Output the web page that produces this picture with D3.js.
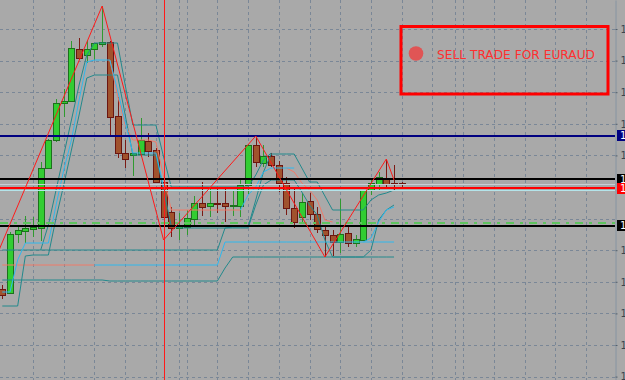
<!DOCTYPE html>
<html>
<head>
<meta charset="utf-8">
<script src="https://cdn.jsdelivr.net/npm/d3@7"></script>
<style>
  html, body { margin: 0; padding: 0; background: #a9a9a9; overflow: hidden; }
  svg { display: block; }
</style>
</head>
<body>
<div id="chart"></div>
<script>
// EURAUD candles, one entry per bar (prices)
var opens  = [1.4311,1.4307,1.4366,1.4369,1.4371,1.4372,1.4432,1.4460,1.4497,1.4499,
              1.4551,1.4545,1.4551,1.4556,1.4558,1.4484,1.4447,1.4445,1.4446,1.4459,
              1.4450,1.4418,1.4388,1.4372,1.4373,1.4381,1.4397,1.4394,1.4397,1.4397,
              1.4394,1.4394,1.4415,1.4455,1.4437,1.4444,1.4435,1.4417,1.4392,1.4383,
              1.4399,1.4386,1.4370,1.4365,1.4358,1.4367,1.4357,1.4360,1.4410,1.4416,
              1.4422,1.4417,1.4417];
var highs  = [1.4315,1.4368,1.4375,1.4384,1.4383,1.4438,1.4461,1.4501,1.4511,1.4559,
              1.4562,1.4560,1.4557,1.4594,1.4559,1.4503,1.4460,1.4447,1.4482,1.4467,
              1.4452,1.4420,1.4393,1.4387,1.4390,1.4404,1.4418,1.4412,1.4413,1.4413,
              1.4409,1.4420,1.4456,1.4464,1.4455,1.4447,1.4439,1.4423,1.4413,1.4407,
              1.4407,1.4393,1.4375,1.4370,1.4401,1.4373,1.4365,1.4410,1.4420,1.4428,
              1.4441,1.4435,1.4418];
var lows   = [1.4301,1.4306,1.4357,1.4357,1.4363,1.4359,1.4431,1.4458,1.4483,1.4498,
              1.4540,1.4537,1.4540,1.4553,1.4463,1.4442,1.4432,1.4424,1.4443,1.4443,
              1.4417,1.4360,1.4363,1.4360,1.4365,1.4374,1.4384,1.4383,1.4387,1.4378,
              1.4384,1.4383,1.4405,1.4433,1.4433,1.4433,1.4408,1.4385,1.4372,1.4378,
              1.4380,1.4367,1.4343,1.4344,1.4347,1.4353,1.4353,1.4360,1.4405,1.4410,
              1.4413,1.4410,1.4413];
var closes = [1.4305,1.4366,1.4370,1.4372,1.4373,1.4432,1.4460,1.4497,1.4499,1.4552,
              1.4542,1.4551,1.4557,1.4558,1.4483,1.4447,1.4441,1.4447,1.4460,1.4449,
              1.4418,1.4383,1.4372,1.4374,1.4382,1.4397,1.4393,1.4397,1.4396,1.4394,
              1.4395,1.4415,1.4455,1.4438,1.4444,1.4435,1.4417,1.4392,1.4378,1.4398,
              1.4386,1.4371,1.4365,1.4358,1.4366,1.4357,1.4361,1.4410,1.4417,1.4423,
              1.4416,1.4416,1.4416];

// channel indicator buffers (null = not drawn on that bar)
var slowUpper = [1.4350,1.4350,1.4350,1.4350,1.4350,1.4350,1.4350,1.4350,1.4350,1.4350,
                 1.4350,1.4350,1.4350,1.4350,1.4350,1.4350,1.4350,1.4350,1.4350,1.4350,
                 1.4350,1.4350,1.4350,1.4350,1.4350,1.4350,1.4350,1.4350,1.4350,1.4372,
                 1.4373,1.4373,1.4373,1.4400,1.4428,1.4446,1.4446,1.4446,1.4446,1.4432,
                 1.4418,1.4418,1.4404,1.4390,1.4390,1.4390,1.4390,1.4390,1.4400,1.4405,
                 1.4407,1.4410];
var slowMidDown = [1.4335,1.4335,1.4335,1.4335,1.4335,1.4335,1.4335,1.4335,1.4335,1.4335,
                   1.4335,1.4335,1.4335];
var slowMidUp = [null,null,null,null,null,null,null,null,null,null,
                 null,null,1.4335,1.4335,1.4335,1.4335,1.4335,1.4335,1.4335,1.4335,
                 1.4335,1.4335,1.4335,1.4335,1.4335,1.4335,1.4335,1.4335,1.4335,1.4358,
                 1.4358,1.4358,1.4358,1.4358,1.4358,1.4358,1.4358,1.4358,1.4358,1.4358,
                 1.4358,1.4358,1.4358,1.4358,1.4358,1.4358,1.4358,1.4358,1.4358,1.4358,
                 1.4358,1.4358];
var slowLower = [1.4320,1.4320,1.4320,1.4320,1.4320,1.4320,1.4320,1.4320,1.4320,1.4320,
                 1.4320,1.4320,1.4320,1.4320,1.4319,1.4319,1.4319,1.4319,1.4319,1.4319,
                 1.4319,1.4319,1.4319,1.4319,1.4319,1.4319,1.4319,1.4319,1.4319,1.4332,
                 1.4343,1.4343,1.4343,1.4343,1.4343,1.4343,1.4343,1.4343,1.4343,1.4343,
                 1.4343,1.4343,1.4343,1.4343,1.4343,1.4343,1.4343,1.4343,1.4343,1.4343,
                 1.4343,1.4343];
var fastUpper = [null,null,null,null,null,1.4350,1.4375,1.4410,1.4445,1.4480,
                 1.4515,1.4545,1.4557,1.4557,1.4557,1.4557,1.4515,1.4475,1.4475,1.4475,
                 1.4475,1.4443,1.4413,1.4413,1.4413,1.4413,1.4413,1.4413,1.4413,1.4413,
                 1.4413,1.4413,1.4413,1.4425,1.4440,1.4447];
var fastMidUp = [1.4308,1.4308,1.4340,1.4357,1.4357,1.4357,1.4357,1.4395,1.4430,1.4460,
                 1.4500,1.4538,1.4540,1.4540,1.4540,1.4510,1.4478,1.4447,1.4447,1.4447,
                 1.4447,1.4413,null,null,null,null,null,null,null,null,
                 null,1.4390,1.4405,1.4413,1.4428,1.4432,1.4432,1.4432,1.4432,null,
                 null,null,null,null,null,null,null,1.4358,1.4362,1.4378,
                 1.4390,1.4393];
var fastMidDown = [null,null,null,null,null,null,null,null,null,null,
                   null,null,null,null,1.4540,1.4505,1.4475,1.4460,1.4460,1.4460,
                   1.4458,1.4424,1.4390,1.4390,1.4390,1.4390,1.4390,1.4390,1.4390,1.4390,
                   1.4390,1.4390,null,null,null,null,null,1.4432,1.4428,1.4417,
                   1.4410,1.4400,1.4380,1.4378];
var fastLower = [1.4294,1.4294,1.4294,1.4344,1.4345,1.4345,1.4345,1.4382,1.4415,1.4450,
                 1.4485,1.4522,1.4525,1.4525,1.4525,1.4525,1.4485,1.4445,1.4445,1.4445,
                 1.4445,1.4410,1.4374,1.4372,1.4372,1.4372,1.4372,1.4372,1.4372,1.4372,
                 1.4372,1.4372,1.4372,1.4395,1.4415,1.4420,1.4420,1.4420,1.4420,1.4408,
                 1.4395,1.4385,1.4360,1.4343,1.4343,1.4343,1.4343,1.4343,1.4350,1.4380,
                 1.4390,1.4395];

// zigzag pivots: [bar, price]
var zigzag = [[-4, 1.4285], [13, 1.4594], [21, 1.4360], [33, 1.4464], [42, 1.4343], [50, 1.4441], [51, 1.4420]];

// price axis / grid
var priceTicks = [1.45710, 1.45394, 1.45078, 1.44762, 1.44446, 1.44130,
                  1.43814, 1.43498, 1.43182, 1.42866, 1.42550, 1.42234];
var gridBars = [4, 8, 12, 16, 20, 23, 24, 28, 32, 36, 40, 44, 48, 52, 56, 59, 60, 64, 68, 72, 76];

// horizontal objects
var levelPrices = [1.44643, 1.44207, 1.44117, 1.43740];
var levelColors = ["#000080", "#000000", "#ff0000", "#000000"];
var bidPrice = 1.44155, askPrice = 1.44095, targetPrice = 1.43773;
var markerBar = 21;

var signalText = "SELL TRADE FOR EURAUD";


//// SETUP //////////////////////////////////////////////////////////////////////
var width = 625, height = 380, plotRight = 615;

var x = d3.scaleLinear().domain([0, 52]).range([2.3, 401.7]);
var y = d3.scaleLinear().domain([1.4220, 1.4600]).range([height, 0]);

var svg = d3.select("#chart").append("svg")
            .attr("width", width)
            .attr("height", height);

svg.append("rect")
   .attr("width", width)
   .attr("height", height)
   .attr("fill", "#a9a9a9");

svg.append("clipPath").attr("id", "plot")
   .append("rect").attr("width", plotRight).attr("height", height);

var plot = svg.append("g").attr("clip-path", "url(#plot)");

function crisp(v) { return Math.round(v) + 0.5; }


//// GRID ///////////////////////////////////////////////////////////////////////
plot.append("g").selectAll("line")
    .data(priceTicks)
    .join("line")
    .attr("x1", 0).attr("x2", plotRight)
    .attr("y1", function(d) { return crisp(y(d)); })
    .attr("y2", function(d) { return crisp(y(d)); })
    .attr("stroke", "#7a8797")
    .attr("stroke-dasharray", "3,3");

plot.append("g").selectAll("line")
    .data(gridBars)
    .join("line")
    .attr("x1", function(d) { return crisp(x(d)); })
    .attr("x2", function(d) { return crisp(x(d)); })
    .attr("y1", 0).attr("y2", height)
    .attr("stroke", "#7a8797")
    .attr("stroke-dasharray", "3,3");


//// CANDLES ////////////////////////////////////////////////////////////////////
var bars = d3.range(opens.length);
var isBull = function(i) { return closes[i] >= opens[i]; };

var candles = plot.append("g").selectAll("g")
    .data(bars)
    .join("g");

candles.append("line")
    .attr("x1", function(i) { return crisp(x(i)); })
    .attr("x2", function(i) { return crisp(x(i)); })
    .attr("y1", function(i) { return y(highs[i]); })
    .attr("y2", function(i) { return y(lows[i]); })
    .attr("stroke", function(i) { return isBull(i) ? "#2f9a2f" : "#7a1a14"; });

candles.append("rect")
    .attr("x", function(i) { return Math.round(x(i)) - 2.5; })
    .attr("width", 6)
    .attr("y", function(i) { return Math.round(y(Math.max(opens[i], closes[i]))) + 0.5; })
    .attr("height", function(i) {
        return Math.max(1, Math.round(Math.abs(y(opens[i]) - y(closes[i]))));
    })
    .attr("fill", function(i) { return isBull(i) ? "#32cd32" : "#a0522d"; })
    .attr("stroke", function(i) { return isBull(i) ? "#1d701d" : "#6b1510"; });


//// INDICATOR ///////////////////////////////////////////////////////////////////
var series = d3.line()
    .defined(function(d) { return d != null; })
    .x(function(d, i) { return x(i); })
    .y(function(d) { return y(d); });

function drawSeries(values, colour) {
    plot.append("path")
        .datum(values)
        .attr("fill", "none")
        .attr("stroke", colour)
        .attr("stroke-width", 1)
        .attr("d", series);
}

drawSeries(slowUpper, "#22898c");
drawSeries(slowLower, "#22898c");
drawSeries(slowMidDown, "#f07a68");
drawSeries(slowMidUp, "#2fb8ee");
drawSeries(fastUpper, "#22898c");
drawSeries(fastLower, "#22898c");
drawSeries(fastMidDown, "#f07a68");
drawSeries(fastMidUp, "#2fb8ee");


//// OBJECTS ////////////////////////////////////////////////////////////////////
function hline(price, colour, w, dash) {
    var yy = w % 2 ? crisp(y(price)) : Math.round(y(price));
    var l = plot.append("line")
        .attr("x1", 0).attr("x2", plotRight)
        .attr("y1", yy).attr("y2", yy)
        .attr("stroke", colour)
        .attr("stroke-width", w);
    if (dash) l.attr("stroke-dasharray", dash);
    return l;
}

hline(bidPrice, "#c6ced6", 1);
hline(askPrice, "#b4e4ea", 1);
hline(targetPrice, "#5ec45e", 2, "8,6,3,6");
levelPrices.forEach(function(p, k) { hline(p, levelColors[k], 2); });

// zigzag
plot.append("path")
    .datum(zigzag)
    .attr("fill", "none")
    .attr("stroke", "#ff1a1a")
    .attr("d", d3.line().x(function(d) { return x(d[0]); }).y(function(d) { return y(d[1]); }));

// vertical marker
plot.append("line")
    .attr("x1", crisp(x(markerBar))).attr("x2", crisp(x(markerBar)))
    .attr("y1", 0).attr("y2", height)
    .attr("stroke", "#ff1a1a");

// signal box
var box = svg.append("g");
box.append("rect")
   .attr("x", 401).attr("y", 26.5)
   .attr("width", 207).attr("height", 67.5)
   .attr("fill", "none")
   .attr("stroke", "#ff0000")
   .attr("stroke-width", 3);
box.append("circle")
   .attr("cx", 416).attr("cy", 53.5).attr("r", 7.3)
   .attr("fill", "#e05555");
box.append("text")
   .attr("x", 437).attr("y", 58.5)
   .attr("textLength", 158)
   .attr("lengthAdjust", "spacingAndGlyphs")
   .style("font-family", "'DejaVu Sans', sans-serif")
   .style("font-size", "13px")
   .style("fill", "#ff2f2f")
   .text(signalText);


//// PRICE SCALE ////////////////////////////////////////////////////////////////
// tick labels that sit under a level tag are covered in the terminal, so skip them
var freeTicks = priceTicks.filter(function(t) {
    return levelPrices.every(function(p) { return Math.abs(y(t) - y(p)) > 9; });
});

var axis = svg.append("g")
    .attr("transform", "translate(" + (plotRight + 0.5) + ",0)")
    .call(d3.axisRight(y)
            .tickValues(freeTicks)
            .tickSize(2)
            .tickSizeOuter(0)
            .tickFormat(d3.format(".5f")));

axis.select(".domain").attr("stroke", "#8694a2");
axis.selectAll(".tick line").attr("stroke", "#55606c");
axis.selectAll(".tick text")
    .attr("fill", "#3a4450")
    .style("font-family", "Tahoma, 'DejaVu Sans', sans-serif")
    .style("font-size", "10px");

var tags = svg.append("g").selectAll("g")
    .data(levelPrices)
    .join("g")
    .attr("transform", function(d) { return "translate(617," + Math.round(y(d) - 5.5) + ")"; });

tags.append("rect")
    .attr("width", 12).attr("height", 11)
    .attr("fill", function(d, k) { return levelColors[k]; });

tags.append("text")
    .attr("x", 3).attr("y", 9)
    .attr("fill", "#ffffff")
    .style("font-family", "Tahoma, 'DejaVu Sans', sans-serif")
    .style("font-size", "10px")
    .text(d3.format(".5f"));
</script>
</body>
</html>
